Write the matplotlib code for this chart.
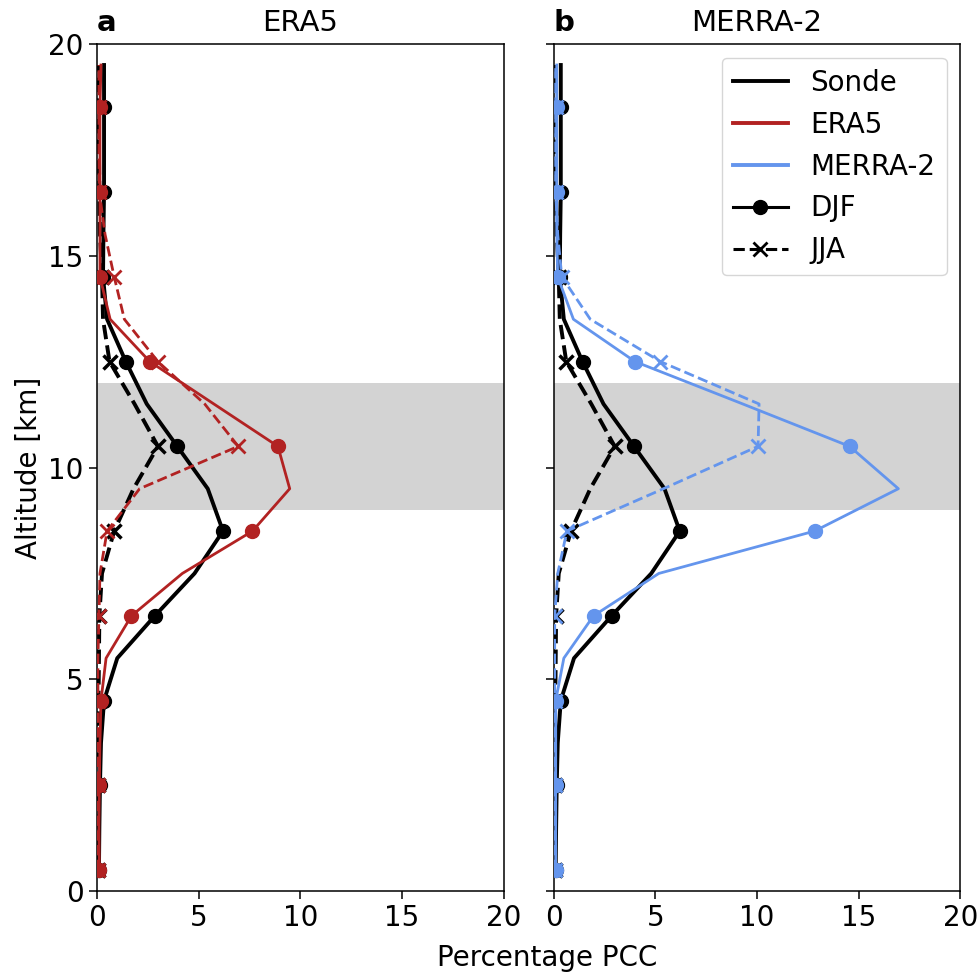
import numpy as np
import matplotlib
matplotlib.use("Agg")
import matplotlib.pyplot as plt
from matplotlib.lines import Line2D

# altitude levels (km), 1 km bins
alt = [0.5, 1.5, 2.5, 3.5, 4.5, 5.5, 6.5, 7.5, 8.5, 9.5,
       10.5, 11.5, 12.5, 13.5, 14.5, 15.5, 16.5, 17.5, 18.5, 19.5]

# percentage PCC profiles
sonde_djf = [0.1, 0.12, 0.15, 0.2, 0.35, 1.0, 2.85, 4.8, 6.2, 5.45,
             3.95, 2.45, 1.42, 0.5, 0.3, 0.32, 0.35, 0.35, 0.35, 0.35]
sonde_jja = [0.05, 0.05, 0.05, 0.05, 0.08, 0.1, 0.12, 0.25, 0.85, 1.8,
             3.0, 1.85, 0.62, 0.3, 0.25, 0.15, 0.12, 0.1, 0.1, 0.1]

era5_djf = [0.12, 0.1, 0.12, 0.15, 0.2, 0.45, 1.7, 4.2, 7.65, 9.48,
            8.9, 5.75, 2.6, 0.65, 0.15, 0.15, 0.15, 0.15, 0.15, 0.2]
era5_jja = [0.05, 0.05, 0.05, 0.05, 0.05, 0.05, 0.1, 0.15, 0.5, 2.1,
            6.95, 5.3, 3.0, 1.35, 0.85, 0.4, 0.12, 0.1, 0.1, 0.1]

merra_djf = [0.1, 0.1, 0.1, 0.1, 0.1, 0.5, 1.96, 5.17, 12.83, 16.95,
             14.55, 9.3, 4.0, 0.97, 0.2, 0.15, 0.15, 0.15, 0.15, 0.15]
merra_jja = [0.05, 0.05, 0.05, 0.05, 0.05, 0.05, 0.05, 0.2, 0.65, 5.4,
             10.05, 10.1, 5.25, 1.8, 0.4, 0.2, 0.1, 0.1, 0.1, 0.1]

red = "#b22222"
blue = "#6495ed"

plt.rcParams["font.size"] = 20
plt.rcParams["xtick.major.size"] = 6
plt.rcParams["ytick.major.size"] = 6
plt.rcParams["xtick.major.width"] = 1.1
plt.rcParams["ytick.major.width"] = 1.1
plt.rcParams["axes.linewidth"] = 1.1

fig, axes = plt.subplots(1, 2, figsize=(9.79, 9.74), dpi=100, sharey=True)
fig.subplots_adjust(left=0.099, right=0.981, top=0.955, bottom=0.085, wspace=0.123)

panels = [
    (axes[0], "a", "ERA5", era5_djf, era5_jja, red),
    (axes[1], "b", "MERRA-2", merra_djf, merra_jja, blue),
]

for ax, letter, name, djf, jja, col in panels:
    ax.axhspan(9, 12, color="lightgray", zorder=0, lw=0)
    # sonde
    ax.plot(sonde_djf, alt, color="k", lw=2.8, marker="o", ms=10, markevery=2, zorder=3)
    ax.plot(sonde_jja, alt, color="k", lw=2.8, ls="--", marker="x", ms=10, mew=2.5,
            markevery=2, zorder=3)
    # reanalysis
    ax.plot(djf, alt, color=col, lw=2, marker="o", ms=10, markevery=2, zorder=4)
    ax.plot(jja, alt, color=col, lw=2, ls="--", marker="x", ms=10, mew=2,
            markevery=2, zorder=4)
    ax.set_xlim(0, 20)
    ax.set_ylim(0, 20)
    ax.set_xticks([0, 5, 10, 15, 20])
    ax.set_yticks([0, 5, 10, 15, 20])
    ax.set_title(name, fontsize=21, pad=9)
    ax.set_title(letter, loc="left", fontweight="bold", fontsize=21, pad=9)

axes[0].set_ylabel("Altitude [km]")
fig.text(0.559, 0.002, "Percentage PCC", ha="center", va="bottom", fontsize=20)

handles = [
    Line2D([], [], color="k", lw=2.8),
    Line2D([], [], color=red, lw=2.8),
    Line2D([], [], color=blue, lw=2.8),
    Line2D([], [], color="k", lw=2.2, marker="o", ms=10),
    Line2D([], [], color="k", lw=2.2, ls="--", marker="x", ms=10, mew=2),
]
labels = ["Sonde", "ERA5", "MERRA-2", "DJF", "JJA"]
axes[1].legend(handles, labels, loc="upper right", fontsize=20)

fig.savefig("out.png", dpi=100)
